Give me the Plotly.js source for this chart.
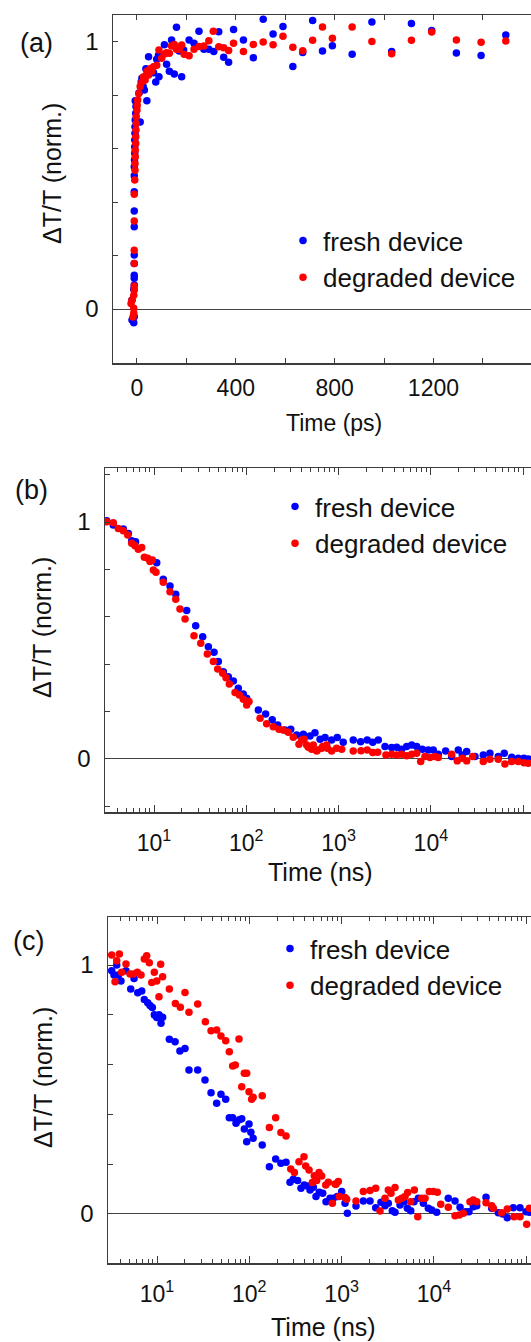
<!DOCTYPE html>
<html>
<head>
<meta charset="utf-8">
<script src="https://cdn.plot.ly/plotly-3.0.1.min.js"></script>
<style>html,body{margin:0;padding:0;background:#fff;overflow:hidden;}#chart{width:531px;height:1342px;}</style>
</head>
<body>
<div id="chart"></div>
<script>
// ---------- Panel (a): Time (ps) ----------
const aFreshT = [-13,-20,-11,-20,-13,-11,-11,-11,-11,-11,-11,-11,-11,-11,-11,-10,-9,-9,-9,-8,-8,-7,-5,-4,-3,
  13,40,-7,9,17,36,47,76,89,67,120,87,80,111,131,151,181,140,160,171,189,211,231,251,271,291,311,331,351,371,391,431,471,511,551,
  591,631,671,711,751,791,871,951,1031,1111,1193,1293,1393,1493, 20,25,30];
const aFreshV = [-0.051,-0.041,-0.029,0.034,0.074,0.09,0.115,0.127,0.171,0.202,0.308,0.367,0.439,0.499,0.533,0.558,0.583,0.608,0.633,0.658,0.683,0.708,0.733,0.758,0.776,
  0.70,0.78,0.78,0.81,0.85,0.90,0.945,0.85,0.87,0.885,0.917,0.95,0.935,0.99,0.89,0.88,0.87,1.007,1.055,0.966,0.97,1.007,0.995,1.04,0.973,0.973,0.964,1.038,0.943,0.924,1.047,1.007,0.941,1.085,1.03,
  1.058,0.908,0.961,1.08,0.966,0.986,0.954,1.075,0.964,1.069,1.043,0.959,0.949,1.026, 0.864,0.833,0.82];
const aDegT = [-16,-13,-13,-24,-20,-13,-11,-11,-11,-11,-11,-11,-9,-8,-8,-7,-7,-5,-5,-4,-3,-3,0,1,
  3,7,13,20,27,33,40,47,53,60,67,80,89,100,111,120,131,140,151,160,171,181,191,211,231,251,271,291,309,331,351,371,391,431,471,511,551,
  591,631,671,711,751,791,871,951,1031,1111,1193,1293,1393,1493];
const aDegV = [-0.03,-0.016,0.003,0.021,0.034,0.052,0.071,0.086,0.171,0.22,0.33,0.43,0.483,0.52,0.545,0.57,0.595,0.62,0.645,0.67,0.695,0.72,0.745,0.763,
  0.783,0.807,0.833,0.85,0.87,0.858,0.89,0.876,0.90,0.89,0.907,0.913,0.97,0.939,0.955,0.96,0.958,0.985,0.991,0.973,0.973,0.989,0.954,0.948,0.973,0.983,0.985,1.005,1.04,0.982,0.978,0.968,0.995,0.964,0.991,1.0,0.99,
  1.021,0.98,0.967,1.006,1.056,1.014,1.056,1.002,0.956,1.006,1.037,1.007,0.999,1.004];

// ---------- Panel (b): Time (ns) ----------
const bFreshT = [3.07,3.62,4.65,5.27,5.73,6.31,10.7,12.6,14.9,17.2,22.6,28.3,33.7,38.8,44.7,49.8,56.4,63.8,72.4,81.9,92.7,100.9,135,162,191,219,262,303,352,415,490,555,630,713,841,968,1123,1442,1733,2043,2343,2692,3184,3759,4262,4829,5470,6196,7021,8075,9378,10620,12030,14450,16790,19820,21880,24430,30060,36980,43650,53710,62400,75000,88500,102000,113600];
const bFreshV = [1.005,0.987,0.97,0.952,0.921,0.917,0.828,0.758,0.73,0.695,0.626,0.562,0.516,0.474,0.45,0.411,0.368,0.347,0.329,0.298,0.274,0.256,0.207,0.19,0.165,0.143,0.122,0.125,0.101,0.104,0.097,0.111,0.083,0.09,0.08,0.09,0.07,0.08,0.073,0.08,0.07,0.08,0.052,0.048,0.049,0.041,0.052,0.059,0.052,0.041,0.038,0.038,0.02,0.034,0.01,0.038,0.017,0.031,0.01,0.017,0.024,0.01,0.024,0.007,0.003,0.003,0.0];
const bDegT = [3.07,3.62,4.1,4.65,5.19,5.73,6.22,6.76,7.36,7.86,8.55,9.05,9.6,9.84,10.5,12.6,14.9,17.2,19.1,21.7,27.1,32.1,37.8,44,49,55.5,60.3,65.5,75.5,84.1,92.9,101,107,141,166,196,226,251,285,323,372,398,422,451,470,511,532,579,589,656,673,743,755,841,953,1081,1442,1750,2043,2343,2654,3258,3759,4262,4829,5470,6196,7021,7760,8630,9780,11070,12030,16790,19310,21880,24430,28380,36980,43650,53710,63500,75000,88500,102000,113600];
const bDegV = [1.001,0.997,0.973,0.963,0.945,0.91,0.9,0.885,0.892,0.851,0.847,0.833,0.84,0.797,0.788,0.746,0.706,0.674,0.633,0.591,0.52,0.488,0.443,0.411,0.38,0.362,0.343,0.316,0.28,0.27,0.252,0.228,0.242,0.172,0.148,0.136,0.125,0.122,0.113,0.092,0.062,0.08,0.083,0.059,0.049,0.041,0.059,0.034,0.038,0.045,0.052,0.059,0.045,0.034,0.045,0.041,0.034,0.035,0.038,0.027,0.028,0.017,0.02,0.017,0.02,0.013,0.02,0.024,-0.011,0.01,0.006,0.01,0.006,0.02,-0.008,0.003,-0.008,0.01,-0.011,-0.001,-0.001,-0.021,-0.011,-0.011,-0.016,-0.018];

// ---------- Panel (c): Time (ns) ----------
const cFreshT = [3.23,3.42,3.66,3.81,4.07,4.61,5.19,5.64,6.18,6.83,7.28,7.93,8.4,8.9,9.35,9.93,10.5,11.05,11.5,13.6,15.7,17.7,20.1,22.2,27.6,33.1,38.5,44.3,49.3,55.5,60.7,66,71.8,78,82.8,88.3,93.7,99.3,104,110,138,165,193,220,250,276,300,334,363,394,425,455,494,528,573,624,678,749,813,898,1003,1089,1154,1432,1719,2031,2341,2671,2951,3206,3540,3790,4295,4747,5155,5610,6085,6780,7680,8700,9470,10720,14320,16930,19190,22120,23990,26740,29110,36710,42290,49900,55620,62380,72440,85650,99500,108200];
const cFreshV = [0.977,0.96,1.0,0.96,0.936,0.977,0.904,0.946,0.889,0.896,0.862,0.849,0.837,0.829,0.8,0.789,0.8,0.766,0.79,0.702,0.692,0.655,0.665,0.578,0.578,0.538,0.487,0.445,0.481,0.461,0.387,0.387,0.364,0.378,0.382,0.341,0.29,0.361,0.328,0.304,0.277,0.19,0.221,0.204,0.208,0.127,0.139,0.134,0.103,0.116,0.112,0.096,0.107,0.07,0.087,0.083,0.049,0.063,0.063,0.07,0.09,0.043,0.003,0.032,0.052,0.052,0.025,0.047,0.033,0.043,0.013,0.007,0.036,0.049,0.023,0.013,0.049,0.063,0.043,0.023,0.016,0.007,0.063,0.052,0.027,0.009,0.009,0.029,0.033,0.067,0.023,0.005,0.0,-0.015,0.025,0.025,0.009,0.007];
const cDegT = [3.23,3.51,3.66,3.91,4.14,4.61,5.1,5.53,6.12,6.71,7.28,7.73,8.25,8.77,9.35,9.93,10.5,10.96,11.5,13.6,15.8,17.9,20.1,22.2,27.6,33.4,38.5,44.3,49.3,55.5,60.7,66,70.5,77.3,82.8,88.3,93.7,99.3,106,110,138,165,193,220,250,281,308,345,391,408,444,482,506,537,569,608,673,718,794,848,869,921,944,1089,1135,1432,1719,2031,2341,2606,2951,3206,3428,3790,4120,4477,4864,5200,5610,6138,6683,7385,8020,8920,9860,10900,11860,14320,16930,18850,20830,24600,26740,29110,36710,42290,44060,54240,62380,73800,85650,101200,108200];
const cDegV = [1.04,0.933,1.017,1.044,0.971,1.004,0.964,0.964,0.971,0.96,1.024,1.037,1.009,0.93,0.971,0.936,0.873,1.003,0.953,0.904,0.846,0.83,0.89,0.81,0.843,0.772,0.736,0.739,0.715,0.696,0.652,0.594,0.598,0.703,0.511,0.565,0.565,0.491,0.461,0.469,0.475,0.347,0.387,0.327,0.313,0.181,0.167,0.21,0.23,0.193,0.177,0.126,0.154,0.134,0.167,0.153,0.116,0.127,0.043,0.12,0.119,0.13,0.07,0.066,0.059,0.052,0.09,0.094,0.103,0.012,0.063,0.096,0.083,0.106,0.056,0.063,0.07,0.086,0.049,0.096,-0.011,0.063,0.063,0.09,0.09,0.087,0.039,0.027,-0.007,-0.004,0.003,0.049,0.056,0.049,0.045,0.033,0.023,0.005,0.02,-0.011,-0.011,-0.041,0.023];

// ---------- Labels ----------
const seriesNames = ['fresh device', 'degraded device'];
const seriesColors = ['#0000ff', '#ff0000'];
const panelLabels = ['(a)', '(b)', '(c)'];
const xTitles = ['Time (ps)', 'Time (ns)', 'Time (ns)'];
const yTitle = '\u0394T/T (norm.)';
const linTickVals = [0, 400, 800, 1200];
const logTickVals = [10, 100, 1000, 10000, 100000];
const logTickText = ['10<sup>1</sup>', '10<sup>2</sup>', '10<sup>3</sup>', '10<sup>4</sup>', '10<sup>5</sup>'];
const yTickVals = [0, 1];
const yTickText = ['0', '1'];

// ---------- Layout helpers (pixel positions) ----------
const W = 531, H = 1342;
const FONT = 'Arial, "Liberation Sans", sans-serif';
const AX = '#3c3c3c';
const fx = p => p / W;
const fy = p => 1 - p / H;

const minorLog = [];
for (let e = 0; e <= 5; e++) for (let m = 2; m <= 9; m++) minorLog.push(m * Math.pow(10, e));

function yAxis(top, bottom, range, xa) {
  return {
    domain: [fy(bottom), fy(top)], anchor: xa, range: range,
    showline: true, linecolor: AX, linewidth: 1.5, mirror: false,
    ticks: 'inside', ticklen: 5, tickwidth: 1, tickcolor: AX,
    tickmode: 'array', tickvals: yTickVals, ticktext: yTickText,
    minor: {dtick: 0.2, tick0: 0, ticks: 'inside', ticklen: 5, tickcolor: AX, showgrid: false},
    tickfont: {family: FONT, size: 24, color: '#111'}, ticklabelstandoff: 8,
    showgrid: false, zeroline: true, zerolinecolor: '#444', zerolinewidth: 1
  };
}
function logX(left, range, ya) {
  return {
    type: 'log', domain: [fx(left), 1], anchor: ya, range: range,
    showline: true, linecolor: AX, linewidth: 1.5, mirror: 'ticks',
    ticks: 'inside', ticklen: 7, tickwidth: 1, tickcolor: AX,
    tickmode: 'array', tickvals: logTickVals, ticktext: logTickText,
    minor: {tickmode: 'array', tickvals: minorLog, ticks: 'inside', ticklen: 4, tickcolor: AX, showgrid: false},
    tickfont: {family: FONT, size: 23, color: '#111'}, ticklabelstandoff: 10,
    showgrid: false, zeroline: false
  };
}

const traces = [];
function addPanel(idx, fT, fV, dT, dV) {
  const sfx = idx === 0 ? '' : String(idx + 1);
  const xa = 'x' + sfx, ya = 'y' + sfx, lg = 'legend' + sfx;
  traces.push({x: fT, y: fV, type: 'scatter', mode: 'markers', name: seriesNames[0], xaxis: xa, yaxis: ya, legend: lg,
    marker: {color: seriesColors[0], size: 7.5}});
  traces.push({x: dT, y: dV, type: 'scatter', mode: 'markers', name: seriesNames[1], xaxis: xa, yaxis: ya, legend: lg,
    marker: {color: seriesColors[1], size: 7.5}});
}
addPanel(0, aFreshT, aFreshV, aDegT, aDegV);
addPanel(1, bFreshT, bFreshV, bDegT, bDegV);
addPanel(2, cFreshT, cFreshV, cDegT, cDegV);

function legendAt(xp, yp) {
  return {x: fx(xp), y: fy(yp), xanchor: 'left', yanchor: 'top', bgcolor: 'rgba(0,0,0,0)', borderwidth: 0,
    font: {family: FONT, size: 26, color: '#111'}, itemwidth: 30, tracegroupgap: 0};
}

function ann(text, xp, yp, size, angle) {
  return {text: text, x: fx(xp), y: fy(yp), xref: 'paper', yref: 'paper', showarrow: false,
    xanchor: 'center', yanchor: 'middle', textangle: angle || 0, font: {family: FONT, size: size, color: '#111'}};
}

const layout = {
  width: W, height: H, margin: {l: 0, r: 0, t: 0, b: 0}, paper_bgcolor: '#fff', plot_bgcolor: '#fff',
  showlegend: true,
  xaxis: {
    domain: [fx(113), 1], anchor: 'y', range: [-97, 1595],
    showline: true, linecolor: AX, linewidth: 1.5, mirror: 'ticks',
    ticks: 'inside', ticklen: 5, tickwidth: 1, tickcolor: AX,
    tickmode: 'array', tickvals: linTickVals,
    minor: {dtick: 200, tick0: 0, ticks: 'inside', ticklen: 5, tickcolor: AX, showgrid: false},
    tickfont: {family: FONT, size: 23, color: '#111'}, ticklabelstandoff: 4,
    showgrid: false, zeroline: false
  },
  yaxis: yAxis(15, 363, [-0.202, 1.101], 'x'),
  xaxis2: logX(105, [0.469, 5.085], 'y2'),
  yaxis2: yAxis(468, 812, [-0.224, 1.228], 'x2'),
  xaxis3: logX(108, [0.469, 5.052], 'y3'),
  yaxis3: yAxis(917, 1263, [-0.197, 1.193], 'x3'),
  legend: legendAt(283, 217),
  legend2: legendAt(275, 483),
  legend3: legendAt(270, 925),
  annotations: [
    ann(panelLabels[0], 36, 43, 27), ann(panelLabels[1], 31, 490, 27), ann(panelLabels[2], 28, 941, 27),
    ann(xTitles[0], 334, 423, 23), ann(xTitles[1], 320, 872, 25), ann(xTitles[2], 323, 1327, 25),
    ann(yTitle, 52, 174, 25, -90), ann(yTitle, 42, 628, 25, -90), ann(yTitle, 43, 1078, 25, -90)
  ]
};

Plotly.newPlot('chart', traces, layout, {staticPlot: true, displayModeBar: false});
</script>
</body>
</html>
